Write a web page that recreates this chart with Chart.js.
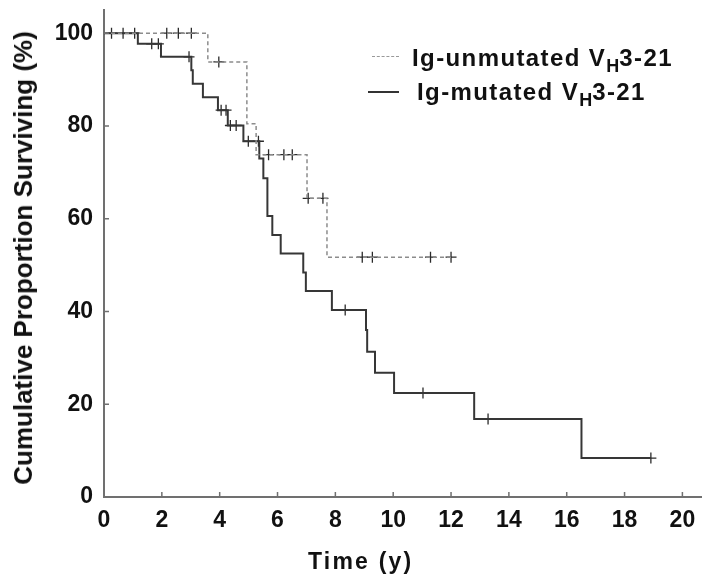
<!DOCTYPE html>
<html>
<head>
<meta charset="utf-8">
<script src="https://cdn.jsdelivr.net/npm/chart.js@4.4.0/dist/chart.umd.min.js"></script>
<style>
  html, body { margin: 0; padding: 0; background: #fff; }
  #wrap { position: relative; width: 708px; height: 580px; font-family: "Liberation Sans", Arial, Helvetica, sans-serif; font-weight: bold; color: #111; }
  #chart { position: absolute; left: 0; top: 0; }
  .lab { position: absolute; white-space: nowrap; line-height: 1; }
  .leg { font-size: 24px; letter-spacing: 1.4px; }
  .leg .sub { font-size: 18px; position: relative; top: 6px; letter-spacing: 0; }
  .swatch { position: absolute; height: 0; }
</style>
</head>
<body>
<div id="wrap">
  <canvas id="chart" width="708" height="580"></canvas>
  <div class="swatch" style="left:372px; top:56px; width:27px; border-top:1.5px dashed #999;"></div>
  <div class="lab leg" style="left:412px; top:46px;">Ig-unmutated V<span class="sub">H</span>3-21</div>
  <div class="swatch" style="left:368px; top:91px; width:31px; border-top:2px solid #333;"></div>
  <div class="lab leg" style="left:417px; top:80px;">Ig-mutated V<span class="sub">H</span>3-21</div>
  <div class="lab" style="left:23px; top:258px; font-size:26px; transform: translate(-50%, -50%) rotate(-90deg);">Cumulative Proportion Surviving (%)</div>
  <div class="lab" style="left:308px; top:550px; font-size:23px; letter-spacing:2.2px;">Time (y)</div>
</div>
<script>
// tick labels
const xTicks = [0, 2, 4, 6, 8, 10, 12, 14, 16, 18, 20];
const yTicks = [0, 20, 40, 60, 80, 100];

// Ig-unmutated VH3-21 (survival after each step)
const unmutTimes = [0, 3.59, 4.94, 5.26, 7.02, 7.71, 12.0];
const unmutSurv  = [100, 93.8, 80.5, 73.8, 64.4, 51.7, 51.7];
const unmutCensTimes = [0.26, 0.66, 1.06, 2.17, 2.57, 3.02, 3.97, 5.69, 6.22, 6.51, 7.06, 7.57, 8.93, 9.28, 11.29, 12.0];
const unmutCensSurv  = [100, 100, 100, 100, 100, 100, 93.8, 73.8, 73.8, 73.8, 64.4, 64.4, 51.7, 51.7, 51.7, 51.7];

// Ig-mutated VH3-21
const mutTimes = [0, 1.17, 1.97, 3.02, 3.07, 3.42, 3.94, 4.28, 4.82, 5.37, 5.51, 5.65, 5.82, 6.11, 6.89, 6.98, 7.88, 9.06, 9.10, 9.37, 10.03, 12.8, 16.51, 18.91];
const mutSurv  = [100, 97.7, 94.9, 92.0, 89.1, 86.2, 83.4, 80.1, 76.7, 73.0, 68.7, 60.6, 56.5, 52.5, 48.4, 44.4, 40.3, 36.0, 31.3, 26.8, 22.4, 16.8, 8.4, 8.4];
const mutCensTimes = [1.65, 1.88, 2.94, 4.05, 4.22, 4.37, 4.57, 4.99, 5.34, 8.34, 11.03, 13.28, 18.91];
const mutCensSurv  = [97.7, 97.7, 94.9, 83.4, 83.4, 80.1, 80.1, 76.7, 76.7, 40.3, 22.4, 16.8, 8.4];

function pts(xs, ys) {
    return xs.map((t, i) => ({ x: t, y: ys[i] }));
}

const axisColor = '#707070';

// tick marks pointing inward, like the original
const innerTicks = {
    id: 'innerTicks',
    afterDraw(chart) {
        const ctx = chart.ctx;
        const x = chart.scales.x, y = chart.scales.y;
        ctx.save();
        ctx.strokeStyle = axisColor;
        ctx.lineWidth = 1.5;
        ctx.beginPath();
        xTicks.forEach(v => {
            const px = x.getPixelForValue(v);
            ctx.moveTo(px, y.bottom);
            ctx.lineTo(px, y.bottom - 5);
        });
        yTicks.forEach(v => {
            const py = y.getPixelForValue(v);
            ctx.moveTo(x.left, py);
            ctx.lineTo(x.left + 5, py);
        });
        ctx.stroke();
        ctx.restore();
    }
};

const tickFont = { family: '"Liberation Sans", Arial, sans-serif', size: 23, weight: 'bold' };

const ctx = document.getElementById('chart').getContext('2d');
const chart = new Chart(ctx, {
    type: 'scatter',
    data: {
        datasets: [{
            label: 'Ig-unmutated VH3-21',
            data: pts(unmutTimes, unmutSurv),
            showLine: true,
            stepped: true,
            borderColor: '#8c8c8c',
            borderWidth: 1.5,
            borderDash: [4, 3],
            pointRadius: 0,
        }, {
            label: 'Ig-mutated VH3-21',
            data: pts(mutTimes, mutSurv),
            showLine: true,
            stepped: true,
            borderColor: '#363636',
            borderWidth: 2,
            pointRadius: 0,
        }, {
            label: 'censored unmutated',
            data: pts(unmutCensTimes, unmutCensSurv),
            pointStyle: 'cross',
            pointRadius: 5.5,
            borderColor: '#2a2a2a',
            borderWidth: 1.3,
        }, {
            label: 'censored mutated',
            data: pts(mutCensTimes, mutCensSurv),
            pointStyle: 'cross',
            pointRadius: 5.5,
            borderColor: '#2a2a2a',
            borderWidth: 1.3,
        }],
    },
    options: {
        responsive: false,
        animation: false,
        layout: { padding: { left: 0, right: 2, top: 10, bottom: 0 } },
        plugins: { legend: { display: false }, tooltip: { enabled: false } },
        scales: {
            x: {
                type: 'linear',
                min: 0,
                max: 20.65,
                afterBuildTicks: (s) => { s.ticks = xTicks.map(v => ({ value: v })); },
                afterFit: (s) => { s.height = 83; s.paddingLeft = 0; s.paddingRight = 0; },
                grid: { display: false, drawTicks: false },
                border: { color: axisColor, width: 2 },
                ticks: { font: tickFont, color: '#111', padding: 10, autoSkip: false, maxRotation: 0 },
            },
            y: {
                type: 'linear',
                min: 0,
                max: 105,
                afterBuildTicks: (s) => { s.ticks = yTicks.map(v => ({ value: v })); },
                afterFit: (s) => { s.width = 104; s.paddingTop = 0; s.paddingBottom = 0; },
                grid: { display: false, drawTicks: false },
                border: { color: axisColor, width: 2 },
                ticks: { font: tickFont, color: '#111', padding: 11 },
            }
        }
    },
    plugins: [innerTicks]
});
</script>
</body>
</html>
